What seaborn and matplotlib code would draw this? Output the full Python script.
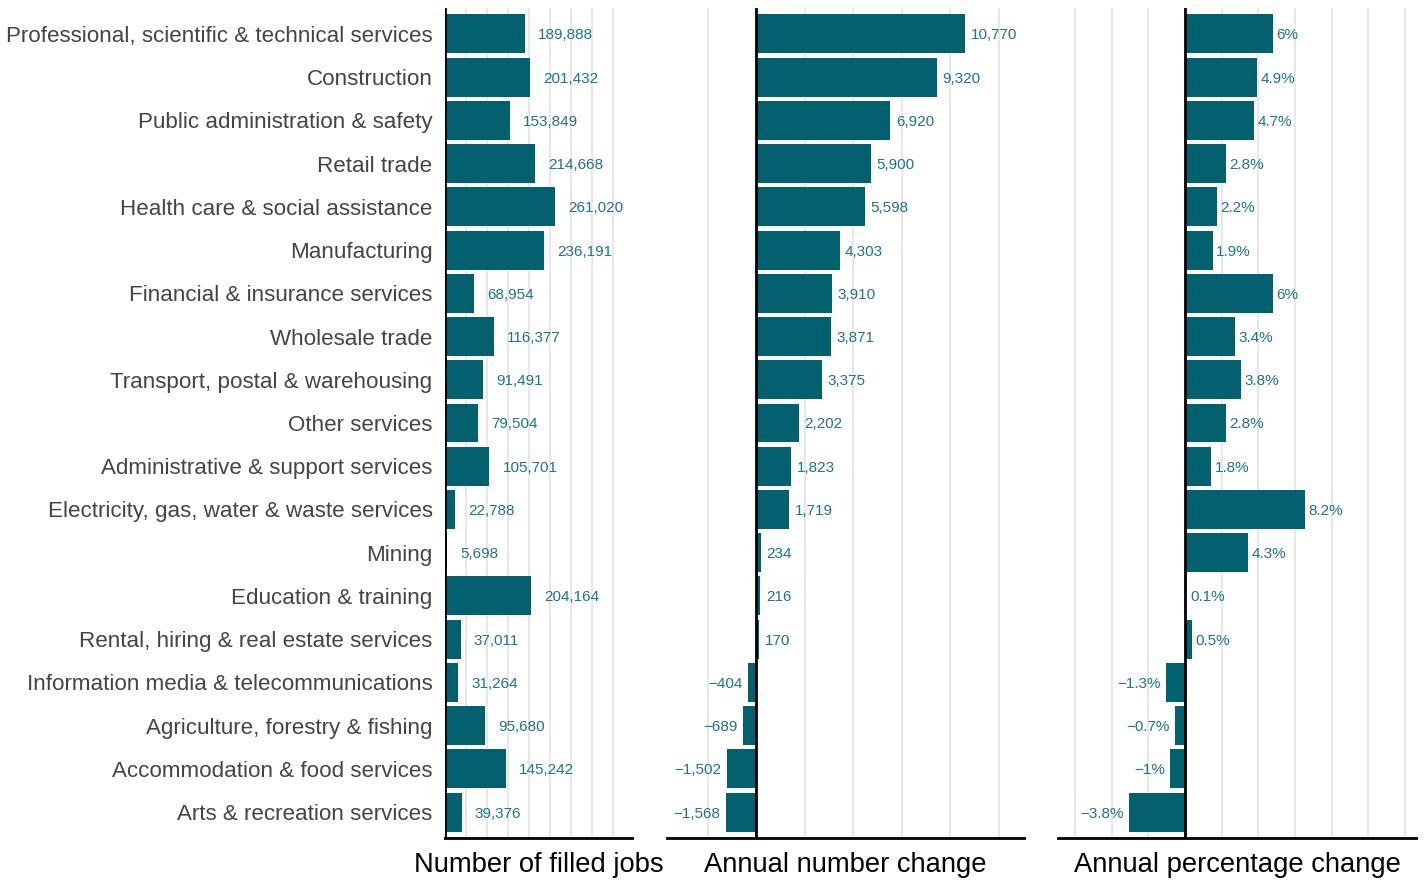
import matplotlib
matplotlib.use("Agg")
import matplotlib.pyplot as plt
from matplotlib.ticker import MultipleLocator
import seaborn as sns
import pandas as pd

sns.set_theme(style="white")
plt.rcParams["font.family"] = ["Liberation Sans", "DejaVu Sans"]

categories = [
    "Professional, scientific & technical services",
    "Construction",
    "Public administration & safety",
    "Retail trade",
    "Health care & social assistance",
    "Manufacturing",
    "Financial & insurance services",
    "Wholesale trade",
    "Transport, postal & warehousing",
    "Other services",
    "Administrative & support services",
    "Electricity, gas, water & waste services",
    "Mining",
    "Education & training",
    "Rental, hiring & real estate services",
    "Information media & telecommunications",
    "Agriculture, forestry & fishing",
    "Accommodation & food services",
    "Arts & recreation services",
]
filled_jobs = [189888, 201432, 153849, 214668, 261020, 236191, 68954, 116377, 91491,
               79504, 105701, 22788, 5698, 204164, 37011, 31264, 95680, 145242, 39376]
annual_change = [10770, 9320, 6920, 5900, 5598, 4303, 3910, 3871, 3375, 2202, 1823,
                 1719, 234, 216, 170, -404, -689, -1502, -1568]
annual_pct = [6, 4.9, 4.7, 2.8, 2.2, 1.9, 6, 3.4, 3.8, 2.8, 1.8, 8.2, 4.3, 0.1, 0.5,
              -1.3, -0.7, -1, -3.8]
titles = ["Number of filled jobs", "Annual number change", "Annual percentage change"]

df = pd.DataFrame({"cat": categories, "jobs": filled_jobs,
                   "change": annual_change, "pct": annual_pct})

BAR = "#03606e"
TXT = "#1e7586"
MINUS = "\u2212"

fig = plt.figure(figsize=(14.24, 8.81), dpi=100)
W, H = 1424, 881
def rect(l, r, t=8, b=838):
    return [l / W, (H - b) / H, (r - l) / W, (b - t) / H]

ax1 = fig.add_axes(rect(445, 632))
ax2 = fig.add_axes(rect(667, 1024))
ax3 = fig.add_axes(rect(1058, 1416))

def fmt_num(v):
    s = f"{abs(v):,}"
    return (MINUS + s) if v < 0 else s

def fmt_pct(v):
    s = f"{abs(v):g}%"
    return (MINUS + s) if v < 0 else s

specs = [
    (ax1, "jobs", (0, 445000), 50000, fmt_num, 9.5),
    (ax2, "change", (-4590, 13810), 2500, fmt_num, 4.0),
    (ax3, "pct", (-8.66, 15.75), 2.5, fmt_pct, 2.5),
]

for i, (ax, col, xlim, step, fmt, off) in enumerate(specs):
    sns.barplot(data=df, y="cat", x=col, orient="h", color=BAR, width=0.9,
                saturation=1, ax=ax, zorder=2, linewidth=0)
    ax.set_xlim(*xlim)
    ax.set_ylim(18.6, -0.6)
    ax.xaxis.set_major_locator(MultipleLocator(step))
    ax.grid(axis="x", color="#e8e8e8", linewidth=1.5, zorder=0)
    ax.grid(axis="y", visible=False)
    ax.set_axisbelow(True)
    ax.tick_params(axis="x", length=0, labelbottom=False)
    ax.tick_params(axis="y", length=0, pad=9)
    for s in ["top", "right", "left"]:
        ax.spines[s].set_visible(False)
    ax.spines["bottom"].set_color("black")
    ax.spines["bottom"].set_linewidth(2)
    ax.axvline(0, color="black", linewidth=2, zorder=3)
    ax.set_ylabel("")
    ax.set_xlabel(titles[i], fontsize=19.7, color="black", labelpad=10)
    if i == 0:
        ax.set_yticks(range(len(categories)))
        ax.set_yticklabels(categories, fontsize=16.1, color="#444444")
    else:
        ax.set_yticks([])
    vals = df[col].tolist()
    for j, v in enumerate(vals):
        if v >= 0:
            ax.annotate(fmt(v), (v, j), xytext=(off, 0), textcoords="offset points",
                        ha="left", va="center_baseline", fontsize=11, color=TXT)
        else:
            ax.annotate(fmt(v), (v, j), xytext=(-4, 0), textcoords="offset points",
                        ha="right", va="center_baseline", fontsize=11, color=TXT)

fig.savefig("out.png", dpi=100, facecolor="white")
